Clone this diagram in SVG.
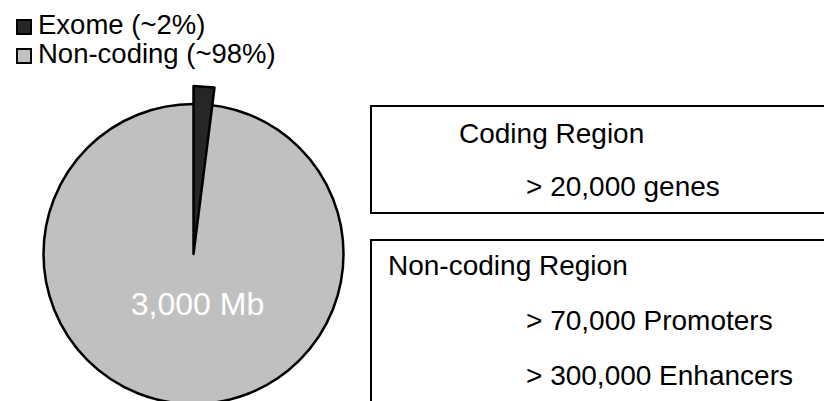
<svg xmlns="http://www.w3.org/2000/svg" width="824" height="401" viewBox="0 0 824 401">
<style>
text{font-family:"Liberation Sans",Arial,sans-serif;fill:#000}
.lg{font-size:27.5px}
.bx{font-size:28px}
.box{fill:#fff;stroke:#000;stroke-width:2}
.ol{stroke:#000;stroke-width:2.5;stroke-linejoin:round}
</style>
<rect width="824" height="401" fill="#fff"/>
<g id="legend">
<rect x="17" y="20" width="14" height="14" fill="#262626" stroke="#000" stroke-width="2"/>
<text class="lg" x="38" y="34">Exome (~2%)</text>
<rect x="17" y="49" width="14" height="14" fill="#c0c0c0" stroke="#000" stroke-width="2"/>
<text class="lg" x="38" y="63">Non-coding (~98%)</text>
</g>
<g id="pie">
<circle class="ol" cx="193.5" cy="254" r="150" fill="#c0c0c0"/>
<path class="ol" d="M193.5,254 L193.5,86 L214.5,87.5 Z" fill="#262626"/>
<text x="197.5" y="315" text-anchor="middle" font-size="32" style="fill:#fff">3,000 Mb</text>
</g>
<g id="coding">
<rect class="box" x="371" y="106" width="470" height="107"/>
<text class="bx" x="459" y="143">Coding Region</text>
<text class="bx" x="526" y="196">&gt; 20,000 genes</text>
</g>
<g id="noncoding">
<rect class="box" x="371" y="240" width="470" height="180"/>
<text class="bx" x="388" y="275">Non-coding Region</text>
<text class="bx" x="526" y="330">&gt; 70,000 Promoters</text>
<text class="bx" x="526" y="385">&gt; 300,000 Enhancers</text>
</g>
<g id="connectors"></g>
</svg>
